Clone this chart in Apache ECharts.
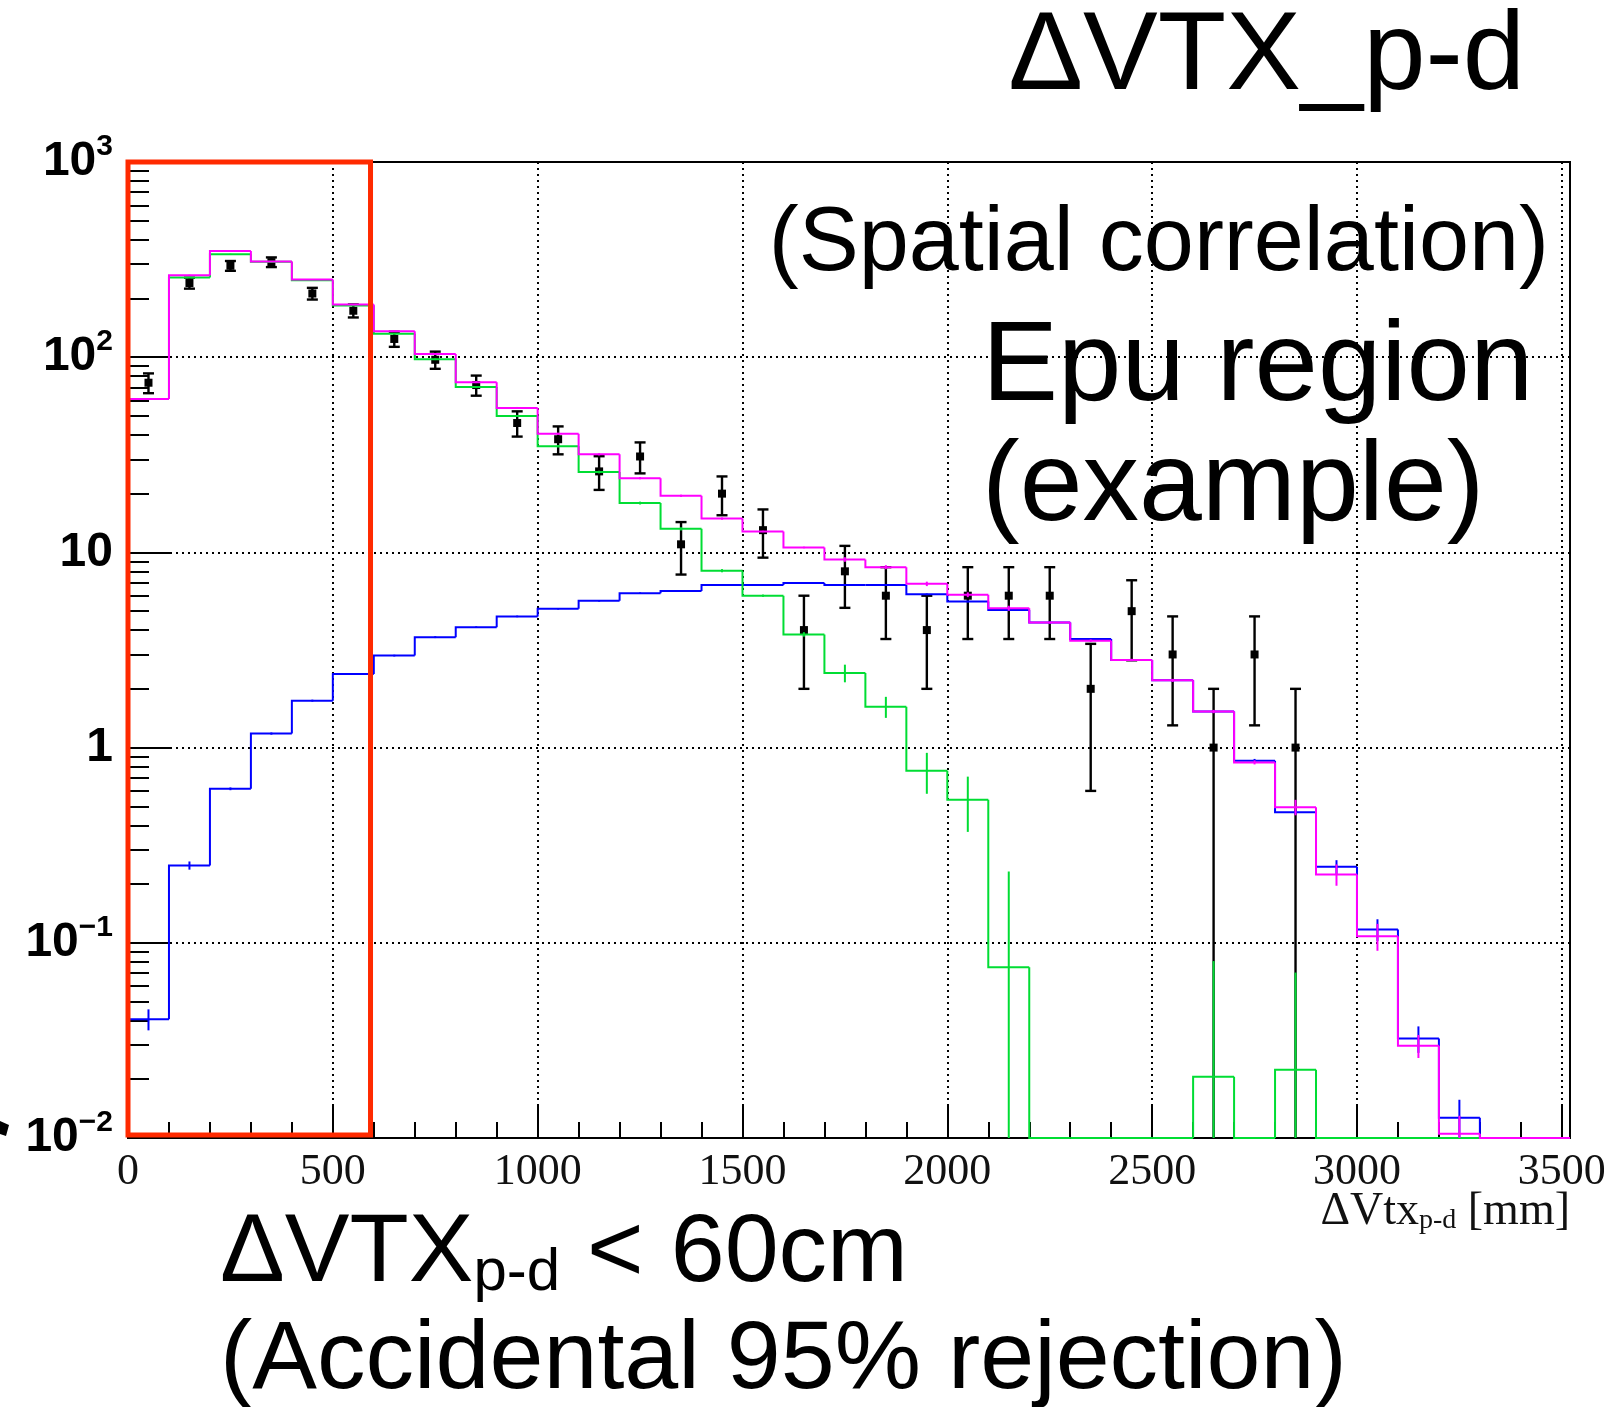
<!DOCTYPE html>
<html><head><meta charset="utf-8">
<script src="https://cdn.jsdelivr.net/npm/echarts@6/dist/echarts.min.js"></script>
<style>html,body{margin:0;padding:0;background:#fff}#c{width:1604px;height:1407px}</style>
</head><body><div id="c"></div>
<script>
// ---- data ----
const binLow = [0,100,200,300,400,500,600,700,800,900,1000,1100,1200,1300,1400,1500,1600,1700,1800,1900,2000,2100,2200,2300,2400,2500,2600,2700,2800,2900,3000,3100,3200,3300,3400];
const binWidth = 100;

const blueVals = [0.0406,0.249,0.615,1.18,1.74,2.38,2.96,3.68,4.14,4.7,5.14,5.65,6.18,6.35,6.81,6.81,6.96,6.81,6.81,6.1,5.6,5.07,4.37,3.6,2.81,2.21,1.53,0.857,0.467,0.245,0.117,0.0323,0.0127,0,0];
const blueErrs = [0.005,0.012,0.01,0.015,0.02,0.025,0.03,0.04,0.04,0.045,0.05,0.055,0.06,0.06,0.065,0.065,0.065,0.065,0.065,0.06,0.055,0.05,0.045,0.04,0.035,0.03,0.025,0.018,0.012,0.02,0.015,0.005,0.003,0,0];

const greenVals = [61,256,337,308,248,184,132,97.6,70.3,50,35,25.8,17.9,13.2,8.06,6.0,3.8,2.41,1.62,0.76,0.54,0.075,0,0,0,0,0.0206,0,0.0224,0,0,0,0,0,0];
const greenErrs = [0.6,1.5,1.8,1.7,1.5,1.3,1.1,0.9,0.8,0.6,0.5,0.4,0.3,0.25,0.15,0.08,0.1,0.25,0.2,0.18,0.17,0.157,0,0,0,0,0.06,0,0.048,0,0,0,0,0,0];

const magentaVals = [61,263,350,309,250,186,136,104,74.5,55,40.5,31.8,24,19.5,14.9,12.8,10.6,9.2,8.4,6.9,6.07,5.18,4.37,3.53,2.81,2.21,1.53,0.84,0.495,0.224,0.108,0.0297,0.0105,0,0];
const magentaErrs = [0.6,1.5,1.8,1.7,1.5,1.3,1.1,0.9,0.8,0.6,0.5,0.4,0.3,0.25,0.2,0.1,0.1,0.25,0.2,0.18,0.17,0.15,0.05,0.05,0.04,0.04,0.03,0.02,0.045,0.028,0.017,0.004,0.0025,0,0];

const dataVals = [74,240,294,307,212,173,124,97,72,46,38,26,31,11,20,13,4,8,6,4,6,6,6,2,5,3,1,3,1,null,null,null,null,null,null];
const dataErrs = [8.6,15.5,17,17.5,14.6,13.2,11,9.8,8.5,6.8,6.2,5.1,5.6,3.3,4.5,3.6,2,2.8,2.4,2,2.4,2.4,2.4,1.4,2.2,1.7,1,1.7,1,null,null,null,null,null,null];

const xTickValues = [0,500,1000,1500,2000,2500,3000,3500];
const xTickLabels = ['0','500','1000','1500','2000','2500','3000','3500'];
const yTickValues = [0.01,0.1,1,10,100,1000];
const yTickBase   = ['10','10','1','10','10','10'];
const yTickExp    = ['\u22122','\u22121','','','2','3'];
const cutValue = 592; // red selection box right edge (mm)

// ---- layout constants ----
const X_MIN = 0, X_MAX = 3520, Y_MIN = 0.01, Y_MAX = 1000;
const xMinorTicks = [];
for (let v = 100; v < 3500; v += 100) if (v % 500 !== 0) xMinorTicks.push(v);
const yMinorTicks = [];
[0.01,0.1,1,10,100].forEach(d => { for (let k = 2; k <= 9; k++) yMinorTicks.push(+(d*k).toPrecision(3)); });

const clampY = v => (v > Y_MIN ? v : Y_MIN);

function histSeries(name, vals, errs, color, z) {
  const data = binLow.map((lo, i) => [
    lo,
    i === binLow.length - 1 ? X_MAX : lo + binWidth,
    vals[i],
    i > 0 ? vals[i - 1] : null,
    errs[i]
  ]);
  return {
    type: 'custom', name, z, clip: false,
    encode: { x: [0, 1], y: [2] },
    data,
    renderItem(params, api) {
      const lo = api.value(0), hi = api.value(1), v = api.value(2), pv = api.value(3), e = api.value(4);
      const pts = [];
      if (params.dataIndex > 0) pts.push(api.coord([lo, clampY(pv)]));
      pts.push(api.coord([lo, clampY(v)]));
      pts.push(api.coord([hi, clampY(v)]));
      const children = [{
        type: 'polyline', shape: { points: pts },
        style: { stroke: color, lineWidth: 2, fill: null, lineJoin: 'miter' }
      }];
      if (v > 0 && e > 0) {
        const c = lo + binWidth / 2;
        const pTop = api.coord([c, v + e]);
        const pBot = api.coord([c, clampY(v - e)]);
        children.push({
          type: 'line', shape: { x1: pTop[0], y1: pTop[1], x2: pBot[0], y2: pBot[1] },
          style: { stroke: color, lineWidth: 2 }
        });
      }
      return { type: 'group', children };
    }
  };
}

const dataPoints = [];
binLow.forEach((lo, i) => { if (dataVals[i] != null) dataPoints.push([lo + binWidth / 2, dataVals[i], dataErrs[i]]); });

const dataSeries = {
  type: 'custom', name: 'data', z: 2, clip: false,
  encode: { x: 0, y: 1 },
  data: dataPoints,
  renderItem(params, api) {
    const c = api.value(0), v = api.value(1), e = api.value(2);
    const p = api.coord([c, v]);
    const pTop = api.coord([c, v + e]);
    const lowV = v - e;
    const pBot = api.coord([c, clampY(lowV)]);
    const cap = 5.5;
    const ch = [
      { type: 'line', shape: { x1: p[0], y1: pTop[1], x2: p[0], y2: pBot[1] }, style: { stroke: '#000', lineWidth: 2.4 } },
      { type: 'line', shape: { x1: p[0] - cap, y1: pTop[1], x2: p[0] + cap, y2: pTop[1] }, style: { stroke: '#000', lineWidth: 2.4 } },
      { type: 'rect', shape: { x: p[0] - 4, y: p[1] - 4, width: 8, height: 8 }, style: { fill: '#000' } }
    ];
    if (lowV > Y_MIN) ch.push({ type: 'line', shape: { x1: p[0] - cap, y1: pBot[1], x2: p[0] + cap, y2: pBot[1] }, style: { stroke: '#000', lineWidth: 2.4 } });
    return { type: 'group', children: ch };
  }
};

const redBox = {
  type: 'custom', name: 'cut', z: 10, clip: false,
  encode: { x: 0, y: 1 },
  data: [[cutValue, Y_MIN]],
  renderItem(params, api) {
    const p0 = api.coord([X_MIN, Y_MAX]);
    const p1 = api.coord([api.value(0), api.value(1)]);
    return { type: 'rect', shape: { x: p0[0], y: p0[1], width: p1[0] - p0[0], height: p1[1] - p0[1] - 3 },
      style: { stroke: '#ff2a00', lineWidth: 5, fill: null } };
  }
};

const chart = echarts.init(document.getElementById('c'), null, { renderer: 'canvas' });
const dotted = { color: '#000', width: 2, type: [2, 4] };
chart.setOption({
  animation: false,
  backgroundColor: '#fff',
  grid: { left: 128, top: 162, right: 34, bottom: 269, show: true, borderColor: '#000', borderWidth: 2, backgroundColor: 'transparent', outerBoundsMode: 'none', containLabel: false },
  xAxis: [
    { type: 'value', min: X_MIN, max: X_MAX, interval: 500, position: 'bottom',
      axisLine: { show: true, lineStyle: { color: '#000', width: 2 } },
      axisTick: { show: true, inside: true, length: 32, customValues: xTickValues, lineStyle: { color: '#000', width: 2 } },
      axisLabel: { show: true, customValues: xTickValues, margin: 12,
        formatter: v => { const i = xTickValues.indexOf(v); return i >= 0 ? xTickLabels[i] : ''; },
        fontFamily: 'Liberation Serif', fontSize: 44, color: '#111' },
      splitLine: { show: true, lineStyle: dotted } },
    { type: 'value', min: X_MIN, max: X_MAX, position: 'bottom', offset: 0,
      axisLine: { show: false }, axisLabel: { show: false }, splitLine: { show: false },
      axisTick: { show: true, inside: true, length: 16, customValues: xMinorTicks, lineStyle: { color: '#000', width: 2 } } }
  ],
  yAxis: [
    { type: 'log', logBase: 10, min: Y_MIN, max: Y_MAX, position: 'left',
      axisLine: { show: true, lineStyle: { color: '#000', width: 2 } },
      axisTick: { show: true, inside: true, length: 43, customValues: yTickValues, lineStyle: { color: '#000', width: 2 } },
      axisLabel: { show: true, customValues: yTickValues, margin: 15,
        formatter: v => {
          const i = yTickValues.findIndex(t => Math.abs(Math.log10(t) - Math.log10(v)) < 1e-6);
          if (i < 0) return '';
          return yTickExp[i] ? '{b|' + yTickBase[i] + '}{s|' + yTickExp[i] + '}' : '{b|' + yTickBase[i] + '}';
        },
        rich: {
          b: { fontFamily: 'Liberation Sans', fontWeight: 'bold', fontSize: 48, lineHeight: 60, color: '#000' },
          s: { fontFamily: 'Liberation Sans', fontWeight: 'bold', fontSize: 30, lineHeight: 22, verticalAlign: 'top', color: '#000' }
        } },
      splitLine: { show: true, lineStyle: dotted } },
    { type: 'log', logBase: 10, min: Y_MIN, max: Y_MAX, position: 'left', offset: 0,
      axisLine: { show: false }, axisLabel: { show: false }, splitLine: { show: false },
      axisTick: { show: true, inside: true, length: 21, customValues: yMinorTicks, lineStyle: { color: '#000', width: 2 } } }
  ],
  series: [
    dataSeries,
    histSeries('accidental', blueVals, blueErrs, '#0000ff', 3),
    histSeries('correlated', greenVals, greenErrs, '#00dd33', 4),
    histSeries('total', magentaVals, magentaErrs, '#ff00ff', 5),
    redBox
  ],
  graphic: [
    { type: 'text', x: 1525, y: 58, z: 100, style: { text: 'ΔVTX_p-d', font: '112px "Liberation Sans"', fill: '#000', align: 'right', verticalAlign: 'middle' } },
    { type: 'text', x: 1549, y: 245, z: 100, style: { text: '(Spatial correlation)', font: '90px "Liberation Sans"', fill: '#000', align: 'right', verticalAlign: 'middle' } },
    { type: 'text', x: 982, y: 369, z: 100, style: { text: 'Epu region', font: '114px "Liberation Sans"', fill: '#000', align: 'left', verticalAlign: 'middle' } },
    { type: 'text', x: 982, y: 489, z: 100, style: { text: '(example)', font: '113px "Liberation Sans"', fill: '#000', align: 'left', verticalAlign: 'middle' } },
    { type: 'text', x: 220, y: 1206, z: 100, style: { text: '{m|ΔVTX}{s|p-d}{m| < 60cm}', align: 'left', verticalAlign: 'top', fill: '#000',
        rich: { m: { fontFamily: 'Liberation Sans', fontSize: 97, lineHeight: 97, fill: '#000' },
                s: { fontFamily: 'Liberation Sans', fontSize: 60, lineHeight: 52, verticalAlign: 'bottom', fill: '#000' } } } },
    { type: 'text', x: 220, y: 1361, z: 100, style: { text: '(Accidental 95% rejection)', font: '97px "Liberation Sans"', fill: '#000', align: 'left', verticalAlign: 'middle' } },
    { type: 'text', x: 1570, y: 1189, z: 100, style: { text: '{m|ΔVtx}{s|p-d}{m| [mm]}', align: 'right', verticalAlign: 'top', fill: '#000',
        rich: { m: { fontFamily: 'Liberation Serif', fontSize: 46, lineHeight: 46, fill: '#111' },
                s: { fontFamily: 'Liberation Serif', fontSize: 28, lineHeight: 8, verticalAlign: 'bottom', fill: '#111' } } } },
    { type: 'polygon', z: 100, shape: { points: [[0, 1121], [9, 1125], [6, 1136], [0, 1134]] }, style: { fill: '#000' } }
  ]
});
</script></body></html>
